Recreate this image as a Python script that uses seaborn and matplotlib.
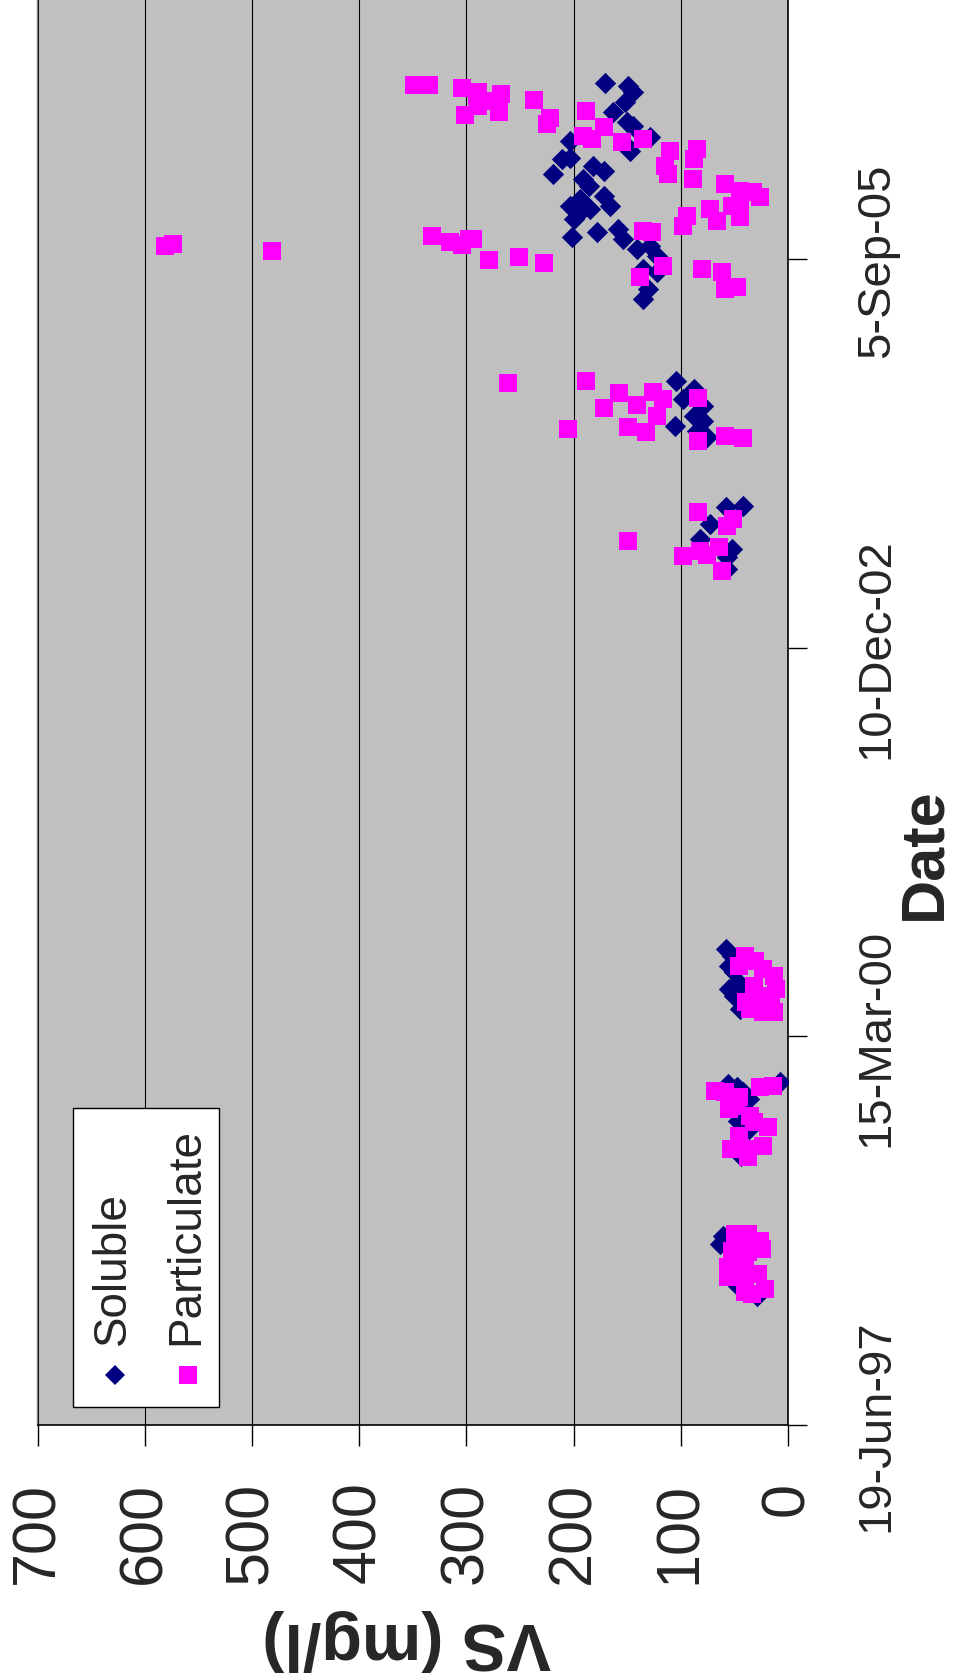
import numpy as np
import pandas as pd
import matplotlib
matplotlib.use("Agg")
import matplotlib.pyplot as plt
import matplotlib.dates as mdates
from matplotlib import font_manager
from matplotlib.patches import Rectangle
from matplotlib.lines import Line2D
import seaborn as sns

# ---------------------------------------------------------------- data
soluble_dates = [
    "1998-10-18", "1998-09-28", "1998-06-12", "1998-05-17",
    "1999-11-14", "1999-11-06", "1999-10-25", "1999-11-19", "1999-10-07",
    "1999-08-10", "1999-07-21", "1999-05-12",
    "2000-10-26", "2000-10-08", "2000-09-12", "2000-08-28", "2000-09-23",
    "2000-07-15", "2000-06-27", "2000-05-25", "2000-08-02", "2000-07-08",
    "2003-12-08", "2003-12-09", "2003-10-25", "2003-09-17", "2003-08-22",
    "2003-08-01", "2003-07-01",
    "2004-10-27", "2004-10-07", "2004-09-10", "2004-08-24", "2004-07-30",
    "2004-07-16", "2004-07-02", "2004-06-05", "2004-06-21",
    "2006-12-03", "2006-11-26", "2006-11-10", "2006-10-15", "2006-09-20",
    "2006-08-25", "2006-08-15", "2006-07-17", "2006-06-24", "2006-06-11",
    "2006-07-07", "2006-05-22", "2006-04-13", "2006-05-25", "2006-05-04",
    "2006-04-21", "2006-03-13", "2006-02-08", "2006-02-15", "2006-01-21",
    "2006-01-20", "2005-12-18", "2005-11-15", "2005-11-02", "2005-11-22",
    "2005-10-28", "2005-10-02", "2005-10-10", "2005-09-14", "2005-08-12",
    "2005-08-04", "2005-06-21", "2005-05-26", "2006-03-31", "2006-01-13",
    "2006-01-05",
]
soluble_vs = [
    61, 63, 47, 29,
    56, 48, 42, 7, 36,
    47, 36, 44,
    58, 52, 55, 50, 45,
    55, 50, 45, 47, 41,
    58, 42, 73, 82, 52,
    57, 57,
    104, 88, 98, 79, 88,
    79, 105, 76, 85,
    171, 149, 145, 152, 163,
    150, 145, 129, 150, 147,
    203, 211, 219, 203, 182,
    172, 186, 194, 172, 166,
    203, 200, 178, 201, 159,
    154, 141, 129, 122, 135,
    122, 131, 135, 191, 185,
    194,
]

particulate_dates = [
    "1998-10-24", "1998-10-23", "1998-10-06", "1998-09-10", "1998-09-07",
    "1998-09-15", "1998-07-31", "1998-08-07", "1998-07-05", "1998-07-06",
    "1998-07-13", "1998-05-27", "1998-06-04", "1998-05-22",
    "1999-10-27", "1999-10-24", "1999-10-06", "1999-10-11", "1999-09-10",
    "1999-09-18", "1999-08-23", "1999-11-06", "1999-11-09", "1999-08-08",
    "1999-07-26", "1999-07-03", "1999-05-30", "1999-05-31", "1999-06-07",
    "1999-05-10",
    "2000-10-08", "2000-09-12", "2000-09-25", "2000-09-05", "2000-08-18",
    "2000-07-15", "2000-06-20", "2000-06-12", "2000-05-25", "2000-05-17",
    "2000-05-18", "2000-07-23", "2000-06-27",
    "2003-09-11", "2003-11-25", "2003-11-07", "2003-10-20", "2003-08-04",
    "2003-08-17", "2003-08-05", "2003-08-27", "2003-06-26",
    "2004-10-27", "2004-09-26", "2004-08-19", "2004-08-26", "2004-09-29",
    "2004-09-11", "2004-07-29", "2004-07-01", "2004-06-18", "2004-06-26",
    "2004-09-12", "2004-05-26", "2004-06-08", "2004-06-03", "2004-10-22",
    "2006-11-28", "2006-11-27", "2006-11-20", "2006-11-10", "2006-09-12",
    "2006-10-05", "2006-10-31", "2006-10-18", "2006-11-05", "2006-09-20",
    "2006-10-21", "2006-09-04", "2006-08-20", "2006-09-22", "2006-08-12",
    "2006-07-20", "2006-07-12", "2006-07-04", "2006-07-12", "2006-06-11",
    "2006-05-04", "2006-04-13", "2006-06-16", "2006-05-22", "2006-03-31",
    "2006-03-18", "2006-02-28", "2006-02-26", "2006-02-13", "2006-01-13",
    "2006-01-21", "2005-12-23", "2006-01-13", "2005-12-13", "2005-12-26",
    "2005-11-30", "2005-11-17", "2005-11-15", "2005-08-19", "2005-07-22",
    "2005-08-12", "2005-08-04", "2005-06-21", "2005-06-26", "2005-10-28",
    "2005-09-04", "2005-09-11", "2005-08-27", "2005-10-10", "2005-10-15",
    "2005-09-27", "2005-11-04", "2005-10-20", "2005-10-12", "2005-10-28",
]
particulate_vs = [
    49, 37, 26, 52, 37,
    24, 56, 40, 56, 40,
    28, 40, 21, 34,
    68, 59, 54, 46, 55,
    48, 35, 26, 14, 32,
    19, 46, 53, 38, 23,
    37,
    40, 46, 31, 23, 13,
    11, 16, 39, 35, 23,
    13, 32, 27,
    149, 84, 51, 57, 98,
    82, 76, 64, 62,
    188, 158, 172, 141, 126,
    117, 122, 149, 132, 205,
    84, 84, 59, 42, 261,
    349, 335, 304, 289, 301,
    289, 290, 281, 268, 270,
    237, 222, 225, 188, 172,
    191, 183, 155, 135, 110,
    115, 112, 85, 88, 89,
    59, 45, 33, 26, 45,
    52, 45, 73, 66, 94,
    98, 135, 127, 117, 138,
    80, 62, 59, 48, 294,
    279, 251, 228, 581, 574,
    481, 332, 315, 304, 298,
]

vs_ticks = [0, 100, 200, 300, 400, 500, 600, 700]
date_tick_dates = ["1997-06-19", "2000-03-15", "2002-12-10", "2005-09-05"]
date_tick_labels = ["19-Jun-97", "15-Mar-00", "10-Dec-02", "5-Sep-05"]
date_range = ["1997-06-19", "2007-07-07"]

series_names = ["Soluble", "Particulate"]
series_colors = {"Soluble": "#000080", "Particulate": "#FF00FF"}

soluble = pd.DataFrame({"Date": pd.to_datetime(soluble_dates), "VS": soluble_vs})
particulate = pd.DataFrame({"Date": pd.to_datetime(particulate_dates), "VS": particulate_vs})

# ---------------------------------------------------------------- style
sns.set_theme(style="white")
plt.rcParams["font.family"] = ["Liberation Sans", "DejaVu Sans"]
installed = {f.name for f in font_manager.fontManager.ttflist}
has_narrow = "Liberation Sans Narrow" in installed
date_family = ["Liberation Sans Narrow", "DejaVu Sans"] if has_narrow else ["Liberation Sans", "DejaVu Sans"]
date_tick_size = 41 if has_narrow else 34
date_label_size = 52 if has_narrow else 44

W, H = 954, 1681
fig = plt.figure(figsize=(W / 100, H / 100), dpi=100)


def fx(px):
    return px / W


def fy(py):
    return 1 - py / H


# plot area: value axis runs right-to-left along the bottom, dates upwards on the right
left_px, right_px, bottom_px, top_px = 37.5, 788, 1426, 0
ax = fig.add_axes([fx(left_px), fy(bottom_px), (right_px - left_px) / W, (bottom_px - top_px) / H])
ax.set_facecolor("#C0C0C0")

sns.scatterplot(data=soluble, x="VS", y="Date", marker="D", s=118,
                color=series_colors["Soluble"], linewidth=0, ax=ax,
                legend=False, zorder=3)
sns.scatterplot(data=particulate, x="VS", y="Date", marker="s", s=165,
                color=series_colors["Particulate"], linewidth=0, ax=ax,
                legend=False, zorder=4)

ax.set_xlim(700, 0)
ax.set_ylim(mdates.date2num(pd.to_datetime(date_range[0])),
            mdates.date2num(pd.to_datetime(date_range[1])))
ax.set_xlabel("")
ax.set_ylabel("")

# value axis
ax.set_xticks(vs_ticks)
ax.set_xticklabels([str(v) for v in vs_ticks], rotation=90, ha="center", va="top",
                   fontsize=44)
ax.tick_params(axis="x", direction="out", length=15, width=1, color="black",
               pad=25, bottom=True)
ax.xaxis.grid(True, color="black", linewidth=0.8)
ax.yaxis.grid(False)
ax.set_axisbelow(True)

# date axis
ax.yaxis.tick_right()
ax.set_yticks(mdates.date2num(pd.to_datetime(date_tick_dates)))
ax.set_yticklabels(date_tick_labels, rotation=90, ha="left", va="center",
                   fontsize=date_tick_size, family=date_family)
ax.tick_params(axis="y", direction="out", length=14, width=1, color="black",
               pad=34, right=True, left=False)

ax.spines["top"].set_visible(False)
ax.spines["left"].set_color("#808080")
ax.spines["left"].set_linewidth(1.0)
ax.spines["bottom"].set_color("black")
ax.spines["bottom"].set_linewidth(1.2)
ax.spines["right"].set_color("black")
ax.spines["right"].set_linewidth(1.2)

# axis titles
fig.text(fx(407), fy(1640), "VS (mg/l)", rotation=180, ha="center", va="center",
         fontsize=48, fontweight="bold")
fig.text(fx(925), fy(854), "Date", rotation=90, ha="center", va="center",
         fontsize=date_label_size, fontweight="bold", family=date_family)

# legend box with rotated entries
fig.add_artist(Rectangle((fx(73), fy(1408)), (219 - 73) / W, (1408 - 1109) / H,
                         transform=fig.transFigure, facecolor="white",
                         edgecolor="black", linewidth=1.0, zorder=5))
legend_markers = {"Soluble": ("D", 10.5), "Particulate": ("s", 12.8)}
legend_x = {"Soluble": 113, "Particulate": 186}
for name in series_names:
    mk, ms = legend_markers[name]
    fig.add_artist(Line2D([fx(legend_x[name] + 2)], [fy(1376)], marker=mk, markersize=ms,
                          color=series_colors[name], linestyle="none", markeredgewidth=0,
                          transform=fig.transFigure, zorder=6))
    fig.text(fx(legend_x[name]), fy(1345), name, rotation=90, ha="center", va="bottom",
             fontsize=33, zorder=6)

fig.savefig("out.png", dpi=100)
